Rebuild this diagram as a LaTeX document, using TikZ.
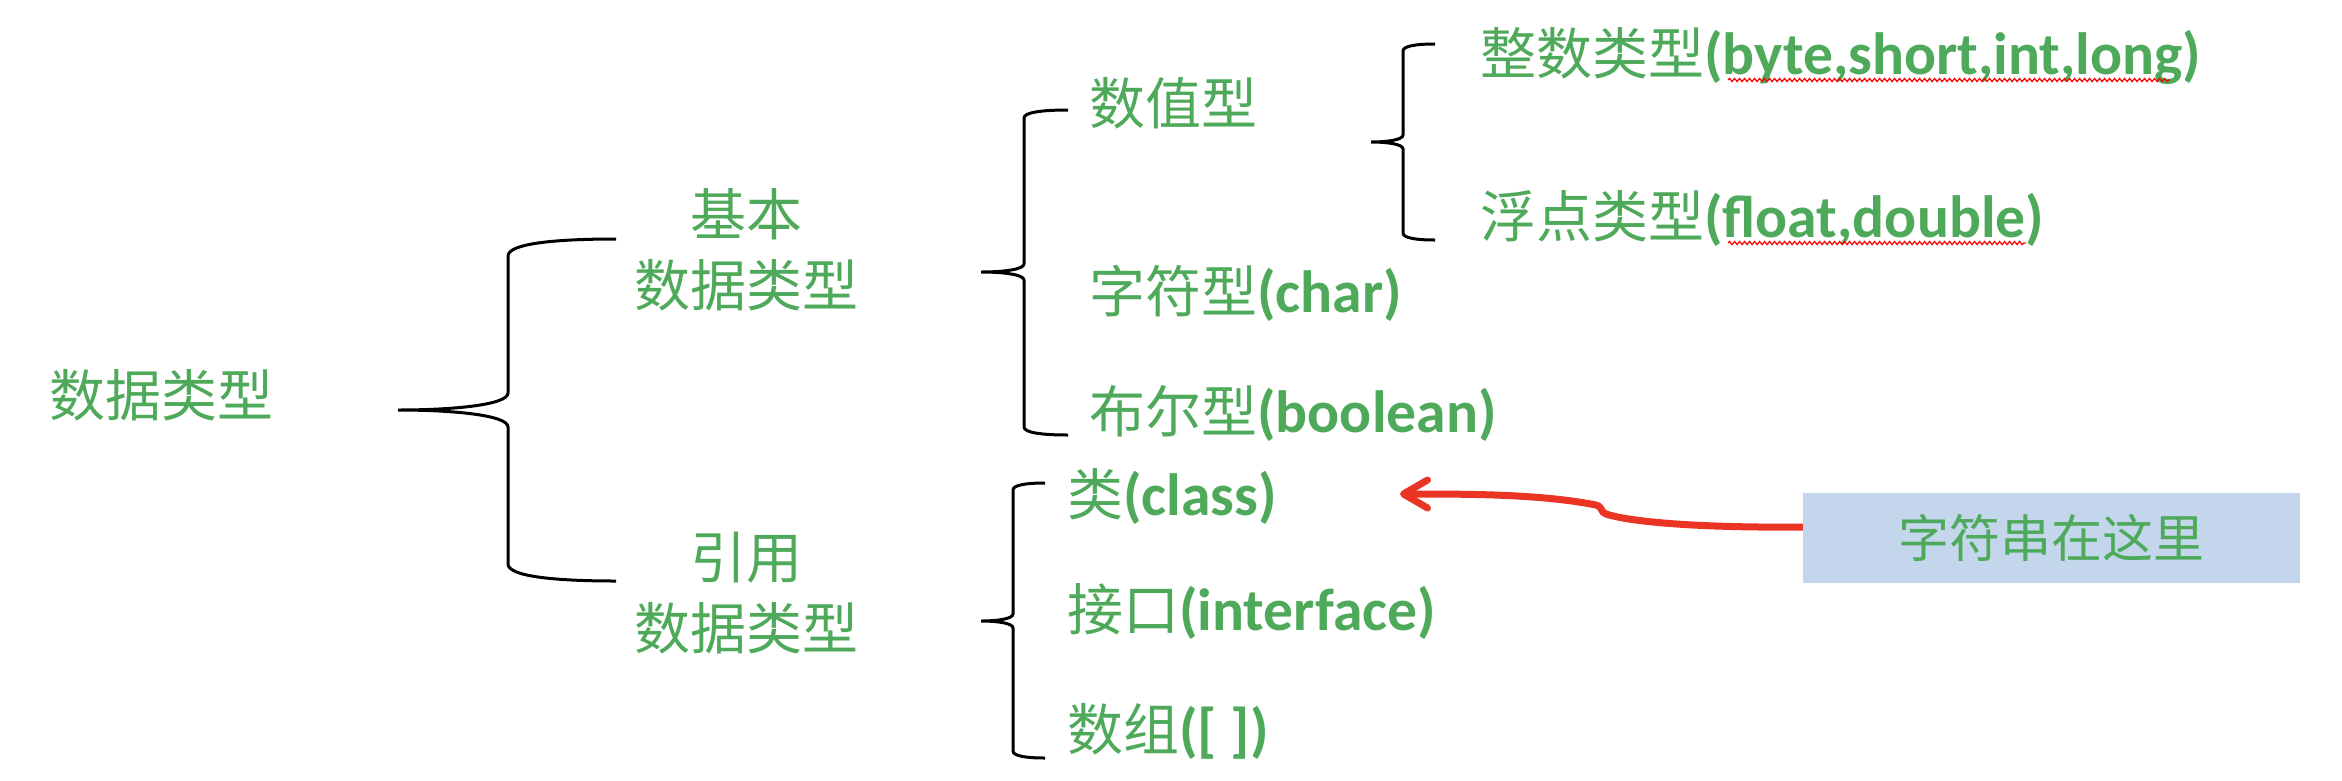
\documentclass[tikz,border=0pt]{standalone}
\usepackage{fontspec}
\setmainfont{Carlito}[Scale=1.065]
\newfontfamily\cjk{Noto Sans CJK SC}
\usetikzlibrary{arrows.meta,decorations.pathmorphing}
\definecolor{txtgreen}{RGB}{78,170,90}
\definecolor{boxblue}{RGB}{195,214,235}
\definecolor{arrred}{RGB}{234,52,36}
\newcommand{\lbl}[2]{{\cjk #1}\textbf{#2}}
\newcommand{\mybrace}[7]{%
  \draw[bracestyle] (#4,#5) .. controls ({#3+0.4*(#4-#3)},#5) and (#3,{#5+0.3*#7}) .. (#3,{#5+#7})
    -- (#3,{#2-#7}) .. controls (#3,{#2-0.3*#7}) and ({#1+0.5*(#3-#1)},#2) .. (#1,#2)
    .. controls ({#1+0.5*(#3-#1)},#2) and (#3,{#2+0.3*#7}) .. (#3,{#2+#7})
    -- (#3,{#6-#7}) .. controls (#3,{#6-0.3*#7}) and ({#3+0.4*(#4-#3)},#6) .. (#4,#6);}
\tikzset{
  lab/.style={text=txtgreen, inner sep=0pt, font=\fontsize{56}{71}\selectfont},
  leaf/.style={lab, anchor=base west},
  bracestyle/.style={draw=black, line width=3pt},
  wavy/.style={draw=red, line width=1.2pt, decorate, decoration={snake, amplitude=1.6pt, segment length=5pt}},
  notebox/.style={fill=boxblue, minimum width=497pt, minimum height=90pt, inner sep=0pt, text=txtgreen, font=\fontsize{51}{60}\selectfont},
  pointer/.style={draw=arrred, line width=7pt, -{Straight Barb[length=24pt,width=28pt,round]}}
}
\begin{document}
\begin{tikzpicture}[x=1pt,y=-1pt]
\useasboundingbox (0,0) rectangle (2342,780);
% labels
\node[lab, anchor=base] (main) at (161,416) {\cjk 数据类型};
\node[lab, align=center, anchor=north] (basic) at (746,188) {\cjk 基本\\\cjk 数据类型};
\node[lab, align=center, anchor=north] (refer) at (746,532) {\cjk 引用\\\cjk 数据类型};
\node[leaf] (num) at (1089,124) {\lbl{数值型}{}};
\node[leaf] (chr) at (1089,312) {\lbl{字符型}{(char)}};
\node[leaf] (bool) at (1089,432) {\lbl{布尔型}{(boolean)}};
\node[leaf] (int) at (1480,74) {\lbl{整数类型}{(byte,short,int,long)}};
\node[leaf] (flt) at (1480,237) {\lbl{浮点类型}{(float,double)}};
\node[leaf] (cls) at (1067,515) {\lbl{类}{(class)}};
\node[leaf] (ifc) at (1067,630) {\lbl{接口}{(interface)}};
\node[leaf] (arr) at (1067,750) {\lbl{数组}{([ ])}};
\node[notebox] (note) at (2051.5,538) {\cjk 字符串在这里};
% braces
\mybrace{398}{410}{508}{616}{239}{581}{17}
\mybrace{981}{272}{1024}{1068}{110}{435}{8}
\mybrace{1371}{142}{1403}{1435}{44}{240}{7}
\mybrace{981}{621}{1013}{1045}{483}{758}{7}
% spell-check underlines
\draw[wavy] (1728,80) -- (2170,80);
\draw[wavy] (1728,243) -- (2026,243);
% arrow
\coordinate (astart) at (note.west |- 0,527);
\coordinate (atip) at (1400,494);
\draw[pointer] (astart) .. controls (1700,528) and (1630,522) .. (1606,514)
  .. controls (1600,512) and (1603,507) .. (1596,505)
  .. controls (1540,494) and (1470,494) .. (atip);
\end{tikzpicture}
\end{document}
